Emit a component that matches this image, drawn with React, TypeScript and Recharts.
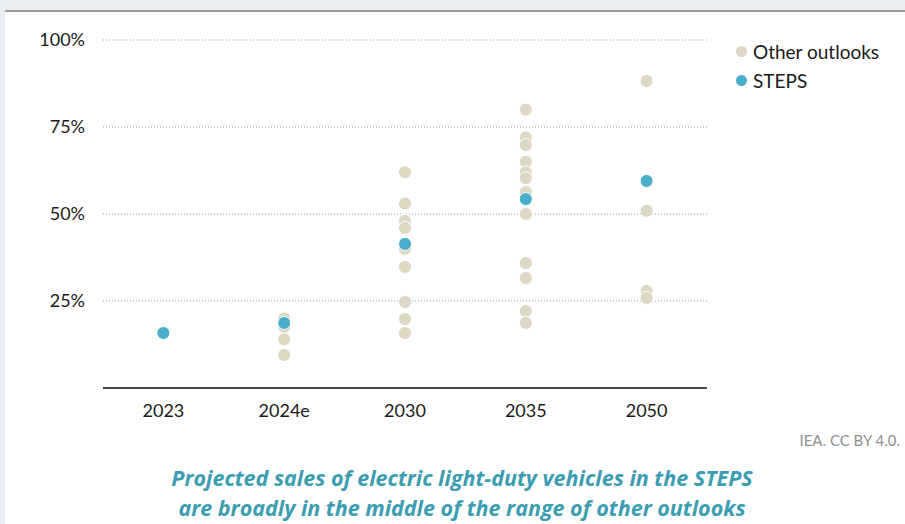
import { CartesianGrid, Scatter, ScatterChart, XAxis, YAxis } from 'recharts';

const categories = ['2023', '2024e', '2030', '2035', '2050'];

// other outlooks, one list per category (share of sales, %)
const other2023: number[] = [];
const other2024: number[] = [20, 17.5, 14, 9.5];
const other2030: number[] = [62, 53, 48, 46, 40, 34.8, 24.7, 19.8, 15.8];
const other2035: number[] = [80, 72, 69.8, 65, 62, 60.3, 56.3, 50, 35.9, 31.6, 22.1, 18.7];
const other2050: number[] = [88.2, 50.9, 27.9, 25.9];

const stepsValues = [15.8, 18.7, 41.4, 54.3, 59.5];
const yTicks = [25, 50, 75, 100];

const COLORS = {
  other: '#ddd8c3',
  steps: '#49aec9',
  grid: '#9a9a9a',
  text: '#1a1a1a',
  caption: '#3b9db2',
};

const otherData = [other2023, other2024, other2030, other2035, other2050].flatMap((vals, i) =>
  vals.map((v) => ({ x: i, y: v })),
);
const stepsData = stepsValues.map((v, i) => ({ x: i, y: v }));

const FONT = 'Lato, "Open Sans", sans-serif';

const legendItems = [
  { label: 'Other outlooks', color: COLORS.other },
  { label: 'STEPS', color: COLORS.steps },
];

export default function App() {
  return (
    <div
      style={{
        position: 'absolute',
        left: 0,
        top: 0,
        width: 905,
        height: 524,
        background: '#eaeef2',
        overflow: 'hidden',
      }}
    >
      <div
        style={{
          position: 'absolute',
          left: 5,
          top: 10,
          width: 900,
          height: 514,
          background: '#fff',
          borderTop: '2px solid #9b9b9b',
        }}
      />
      <div style={{ position: 'absolute', left: 0, top: 0 }}>
        <ScatterChart width={905} height={440} margin={{ top: 40, right: 198, bottom: 22, left: 0 }}>
          <CartesianGrid stroke={COLORS.grid} strokeDasharray="1 2" vertical={false} />
          <XAxis
            type="number"
            dataKey="x"
            domain={[-0.5, 4.5]}
            ticks={[0, 1, 2, 3, 4]}
            tickFormatter={(v: number) => categories[v]}
            tick={{ fill: COLORS.text, fontSize: 18, fontFamily: FONT }}
            tickLine={false}
            axisLine={{ stroke: '#111', strokeWidth: 1.5 }}
            height={30}
            tickMargin={10}
            interval={0}
          />
          <YAxis
            type="number"
            dataKey="y"
            domain={[0, 100]}
            ticks={yTicks}
            tickFormatter={(v: number) => `${v}%`}
            tick={{ fill: COLORS.text, fontSize: 18, fontFamily: FONT }}
            tickLine={false}
            axisLine={false}
            width={103}
            tickMargin={12}
          />
          <Scatter
            name="Other outlooks"
            data={otherData}
            fill={COLORS.other}
            shape={(p: any) => <circle cx={p.cx} cy={p.cy} r={6.5} fill={COLORS.other} stroke="#fff" strokeWidth={1} />}
            isAnimationActive={false}
          />
          <Scatter
            name="STEPS"
            data={stepsData}
            fill={COLORS.steps}
            shape={(p: any) => <circle cx={p.cx} cy={p.cy} r={6.5} fill={COLORS.steps} stroke="#fff" strokeWidth={1} />}
            isAnimationActive={false}
          />
        </ScatterChart>
      </div>
      <div
        style={{
          position: 'absolute',
          left: 736,
          top: 37,
          fontFamily: FONT,
          fontSize: 19,
          color: COLORS.text,
        }}
      >
        {legendItems.map((it) => (
          <div key={it.label} style={{ display: 'flex', alignItems: 'center', height: 29 }}>
            <span
              style={{
                width: 11,
                height: 11,
                borderRadius: '50%',
                background: it.color,
                marginRight: 6,
                display: 'inline-block',
              }}
            />
            {it.label}
          </div>
        ))}
      </div>
      <div
        style={{
          position: 'absolute',
          right: 5,
          top: 431,
          fontFamily: FONT,
          fontSize: 15,
          color: '#8f8f8f',
        }}
      >
        IEA. CC BY 4.0.
      </div>
      <div
        style={{
          position: 'absolute',
          left: 0,
          top: 463,
          width: 924,
          textAlign: 'center',
          fontFamily: '"Open Sans", Lato, sans-serif',
          fontSize: 21.5,
          fontStyle: 'italic',
          fontWeight: 700,
          color: COLORS.caption,
          lineHeight: '30px',
        }}
      >
        Projected sales of electric light-duty vehicles in the STEPS
        <br />
        are broadly in the middle of the range of other outlooks
      </div>
    </div>
  );
}
